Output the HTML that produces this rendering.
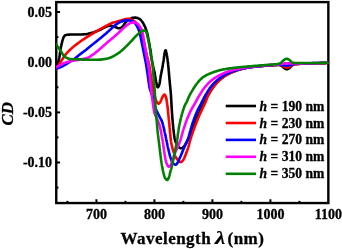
<!DOCTYPE html>
<html><head><meta charset="utf-8"><title>CD</title>
<style>
html,body{margin:0;padding:0;background:#fff;}
svg{display:block;will-change:transform;}
text{font-family:"Liberation Serif","Times New Roman",serif;font-weight:bold;fill:#000;stroke:#000;stroke-width:0.3px;}
</style></head><body>
<svg width="342" height="249" viewBox="0 0 342 249">
<rect width="342" height="249" fill="#fff"/>
<clipPath id="c"><rect x="56.25" y="2.1" width="272.1" height="200.95000000000002"/></clipPath>
<g stroke="#000" stroke-width="2"><line x1="96.4" y1="203.05" x2="96.4" y2="199.25"/><line x1="154.4" y1="203.05" x2="154.4" y2="199.25"/><line x1="212.4" y1="203.05" x2="212.4" y2="199.25"/><line x1="270.4" y1="203.05" x2="270.4" y2="199.25"/><line x1="67.4" y1="203.05" x2="67.4" y2="200.85000000000002"/><line x1="125.4" y1="203.05" x2="125.4" y2="200.85000000000002"/><line x1="183.4" y1="203.05" x2="183.4" y2="200.85000000000002"/><line x1="241.4" y1="203.05" x2="241.4" y2="200.85000000000002"/><line x1="299.4" y1="203.05" x2="299.4" y2="200.85000000000002"/><line x1="56.25" y1="12.0" x2="60.05" y2="12.0"/><line x1="56.25" y1="62.2" x2="60.05" y2="62.2"/><line x1="56.25" y1="112.4" x2="60.05" y2="112.4"/><line x1="56.25" y1="162.5" x2="60.05" y2="162.5"/><line x1="56.25" y1="37.1" x2="58.45" y2="37.1"/><line x1="56.25" y1="87.3" x2="58.45" y2="87.3"/><line x1="56.25" y1="137.4" x2="58.45" y2="137.4"/><line x1="56.25" y1="187.6" x2="58.45" y2="187.6"/></g>
<rect x="56.25" y="2.1" width="272.1" height="200.95000000000002" fill="none" stroke="#000" stroke-width="2.4"/>
<g clip-path="url(#c)">
<path d="M55.5,70.0 L55.8,69.4 L56.0,68.8 L56.2,68.1 L56.5,67.5 L56.7,66.9 L56.9,66.3 L57.1,65.6 L57.3,65.0 L57.5,64.3 L57.7,63.7 L57.9,63.1 L58.1,62.4 L58.3,61.8 L58.5,61.1 L58.6,60.5 L58.8,59.9 L59.0,59.2 L59.2,58.6 L59.3,57.9 L59.4,57.3 L59.5,56.6 L59.6,55.9 L59.7,55.3 L59.8,54.6 L59.9,53.9 L59.9,53.3 L60.0,52.6 L60.1,52.0 L60.2,51.3 L60.3,50.6 L60.4,50.0 L60.5,49.3 L60.6,48.7 L60.8,48.0 L60.9,47.3 L61.0,46.7 L61.2,46.0 L61.3,45.4 L61.5,44.7 L61.6,44.1 L61.8,43.4 L61.9,42.8 L62.1,42.1 L62.2,41.5 L62.4,40.8 L62.6,40.2 L62.8,39.5 L63.0,38.9 L63.2,38.3 L63.4,37.7 L63.7,37.0 L64.1,36.4 L64.5,35.9 L64.9,35.5 L65.5,35.2 L66.2,35.0 L66.9,34.8 L67.5,34.7 L68.2,34.7 L68.8,34.6 L69.5,34.6 L70.2,34.5 L70.8,34.5 L71.5,34.5 L72.2,34.5 L72.8,34.5 L73.5,34.5 L74.2,34.5 L74.9,34.5 L75.5,34.5 L76.2,34.5 L76.9,34.5 L77.5,34.5 L78.2,34.5 L78.9,34.5 L79.5,34.5 L80.2,34.5 L80.9,34.5 L81.5,34.5 L82.2,34.5 L82.9,34.4 L83.5,34.4 L84.2,34.3 L84.9,34.3 L85.5,34.2 L86.2,34.2 L86.8,34.1 L87.5,34.0 L88.2,33.8 L88.8,33.6 L89.5,33.4 L90.1,33.3 L90.7,33.1 L91.4,32.9 L92.0,32.7 L92.7,32.6 L93.3,32.4 L93.9,32.2 L94.6,31.9 L95.2,31.7 L95.8,31.5 L96.5,31.3 L97.1,31.0 L97.7,30.8 L98.3,30.5 L98.9,30.3 L99.6,30.0 L100.2,29.7 L100.8,29.5 L101.4,29.2 L102.0,28.9 L102.6,28.5 L103.1,28.2 L103.7,27.9 L104.3,27.5 L104.9,27.2 L105.5,27.0 L106.1,26.8 L106.8,26.5 L107.4,26.3 L108.1,26.1 L108.7,25.9 L109.4,25.8 L110.0,25.8 L110.7,25.8 L111.4,25.9 L112.0,26.0 L112.7,26.1 L113.3,26.2 L114.0,26.4 L114.6,26.7 L115.2,27.0 L115.8,27.2 L116.4,27.5 L117.1,27.7 L117.7,28.0 L118.4,28.2 L119.0,28.3 L119.6,28.3 L120.3,28.1 L120.9,27.8 L121.6,27.5 L122.1,27.1 L122.5,26.7 L123.0,26.2 L123.4,25.6 L123.7,25.0 L124.2,24.5 L124.5,24.0 L124.9,23.4 L125.3,22.8 L125.7,22.3 L126.2,21.8 L126.6,21.4 L127.1,20.9 L127.6,20.5 L128.2,20.0 L128.7,19.6 L129.3,19.3 L129.9,19.0 L130.4,18.7 L131.1,18.4 L131.7,18.1 L132.3,17.9 L133.0,17.8 L133.6,17.7 L134.3,17.6 L135.0,17.6 L135.6,17.6 L136.3,17.7 L137.0,17.9 L137.6,18.0 L138.2,18.3 L138.8,18.6 L139.4,18.9 L140.0,19.3 L140.5,19.7 L141.0,20.2 L141.4,20.7 L141.8,21.2 L142.2,21.7 L142.6,22.3 L143.0,22.9 L143.3,23.4 L143.6,24.0 L143.9,24.6 L144.2,25.2 L144.5,25.8 L144.8,26.4 L145.1,27.0 L145.4,27.6 L145.6,28.3 L145.8,28.9 L146.1,29.5 L146.3,30.1 L146.5,30.8 L146.7,31.4 L146.9,32.1 L147.0,32.7 L147.2,33.3 L147.4,34.0 L147.5,34.6 L147.7,35.3 L147.8,35.9 L148.0,36.6 L148.1,37.3 L148.2,37.9 L148.3,38.6 L148.5,39.2 L148.6,39.9 L148.7,40.5 L148.8,41.2 L149.0,41.8 L149.1,42.5 L149.2,43.2 L149.3,43.8 L149.4,44.5 L149.6,45.1 L149.7,45.8 L149.8,46.4 L149.9,47.1 L150.0,47.8 L150.1,48.4 L150.2,49.1 L150.3,49.7 L150.5,50.4 L150.6,51.1 L150.7,51.7 L150.8,52.4 L150.9,53.0 L151.0,53.7 L151.0,54.4 L151.1,55.0 L151.2,55.7 L151.3,56.3 L151.4,57.0 L151.5,57.7 L151.6,58.3 L151.7,59.0 L151.8,59.6 L152.0,60.3 L152.1,61.0 L152.2,61.6 L152.3,62.3 L152.4,62.9 L152.5,63.6 L152.7,64.2 L152.8,64.9 L152.9,65.6 L153.0,66.2 L153.2,66.9 L153.3,67.5 L153.4,68.2 L153.6,68.8 L153.7,69.5 L153.9,70.1 L154.1,70.8 L154.2,71.4 L154.4,72.1 L154.5,72.7 L154.7,73.4 L154.8,74.0 L154.9,74.7 L155.1,75.3 L155.2,76.0 L155.3,76.6 L155.4,77.3 L155.5,78.0 L155.6,78.6 L155.7,79.3 L155.8,80.0 L155.9,80.6 L156.0,81.3 L156.2,81.9 L156.3,82.6 L156.4,83.2 L156.6,83.9 L156.8,84.7 L157.0,85.5 L157.2,86.3 L157.4,86.9 L157.7,87.3 L158.0,87.2 L158.4,86.7 L158.8,86.0 L159.1,85.3 L159.2,84.7 L159.4,84.1 L159.6,83.4 L159.7,82.8 L159.8,82.1 L159.9,81.5 L160.0,80.8 L160.1,80.1 L160.2,79.4 L160.3,78.8 L160.4,78.1 L160.5,77.4 L160.6,76.7 L160.7,76.1 L160.8,75.4 L160.9,74.8 L161.1,74.1 L161.2,73.5 L161.3,72.8 L161.5,72.2 L161.6,71.5 L161.7,70.8 L161.9,70.2 L162.0,69.5 L162.1,68.9 L162.2,68.2 L162.4,67.6 L162.5,66.9 L162.6,66.3 L162.7,65.6 L162.8,64.9 L162.9,64.3 L163.0,63.6 L163.1,63.0 L163.2,62.3 L163.4,61.6 L163.5,61.0 L163.6,60.3 L163.7,59.7 L163.8,59.0 L163.9,58.3 L164.0,57.7 L164.0,57.0 L164.1,56.3 L164.2,55.7 L164.3,55.0 L164.4,54.4 L164.6,53.7 L164.7,53.1 L164.8,52.3 L165.0,51.5 L165.3,50.7 L165.5,50.3 L165.7,50.3 L165.9,50.7 L166.1,51.5 L166.3,52.3 L166.5,53.1 L166.7,53.7 L166.8,54.4 L166.9,55.0 L167.0,55.7 L167.1,56.3 L167.2,57.0 L167.3,57.7 L167.4,58.3 L167.5,59.0 L167.6,59.7 L167.6,60.3 L167.7,61.0 L167.8,61.6 L167.9,62.3 L168.0,63.0 L168.0,63.6 L168.1,64.3 L168.2,65.0 L168.3,65.6 L168.3,66.3 L168.4,67.0 L168.5,67.6 L168.5,68.3 L168.6,68.9 L168.6,69.6 L168.7,70.3 L168.8,70.9 L168.8,71.6 L168.9,72.3 L168.9,72.9 L169.0,73.6 L169.0,74.3 L169.1,74.9 L169.2,75.6 L169.2,76.3 L169.3,76.9 L169.3,77.6 L169.4,78.3 L169.4,78.9 L169.5,79.6 L169.6,80.3 L169.6,80.9 L169.7,81.6 L169.7,82.2 L169.8,82.9 L169.9,83.6 L169.9,84.2 L170.0,84.9 L170.1,85.6 L170.1,86.2 L170.2,86.9 L170.3,87.6 L170.3,88.2 L170.4,88.9 L170.5,89.6 L170.5,90.2 L170.6,90.9 L170.7,91.6 L170.7,92.2 L170.8,92.9 L170.8,93.5 L170.9,94.2 L170.9,94.9 L171.0,95.5 L171.0,96.2 L171.0,96.9 L171.1,97.5 L171.1,98.2 L171.2,98.9 L171.2,99.5 L171.2,100.2 L171.3,100.9 L171.3,101.5 L171.4,102.2 L171.4,102.9 L171.4,103.5 L171.5,104.2 L171.5,104.9 L171.5,105.5 L171.6,106.2 L171.6,106.9 L171.7,107.5 L171.7,108.2 L171.7,108.9 L171.8,109.5 L171.8,110.2 L171.9,110.9 L171.9,111.5 L171.9,112.2 L172.0,112.9 L172.0,113.5 L172.1,114.2 L172.1,114.9 L172.2,115.5 L172.2,116.2 L172.3,116.9 L172.3,117.5 L172.4,118.2 L172.4,118.9 L172.5,119.5 L172.6,120.2 L172.6,120.9 L172.7,121.5 L172.7,122.2 L172.8,122.9 L172.9,123.5 L172.9,124.2 L173.0,124.9 L173.0,125.5 L173.1,126.2 L173.2,126.8 L173.2,127.5 L173.3,128.2 L173.4,128.8 L173.5,129.5 L173.5,130.2 L173.6,130.8 L173.7,131.5 L173.8,132.2 L173.8,132.8 L173.9,133.5 L174.0,134.1 L174.1,134.8 L174.2,135.5 L174.3,136.1 L174.4,136.8 L174.5,137.5 L174.6,138.1 L174.7,138.8 L174.9,139.4 L175.0,140.1 L175.2,140.7 L175.4,141.3 L175.6,142.0 L175.9,142.6 L176.2,143.2 L176.5,143.8 L176.8,144.4 L177.2,145.0 L177.5,145.5 L177.9,146.1 L178.3,146.6 L178.8,147.2 L179.3,147.6 L179.8,147.9 L180.5,148.2 L181.1,148.3 L181.7,148.1 L182.4,147.9 L182.9,147.5 L183.5,147.1 L183.9,146.6 L184.3,146.1 L184.7,145.6 L185.1,145.0 L185.4,144.4 L185.8,143.8 L186.1,143.2 L186.4,142.6 L186.7,142.0 L187.0,141.5 L187.3,140.9 L187.7,140.3 L188.0,139.7 L188.3,139.1 L188.6,138.5 L188.9,137.9 L189.2,137.3 L189.5,136.7 L189.8,136.1 L190.0,135.5 L190.3,134.9 L190.5,134.3 L190.8,133.6 L191.0,133.0 L191.2,132.4 L191.5,131.8 L191.7,131.1 L191.9,130.5 L192.1,129.9 L192.4,129.2 L192.6,128.6 L192.8,128.0 L193.1,127.4 L193.3,126.7 L193.5,126.1 L193.8,125.5 L194.0,124.9 L194.3,124.2 L194.5,123.6 L194.8,123.0 L195.0,122.4 L195.3,121.8 L195.5,121.1 L195.8,120.5 L196.0,119.9 L196.3,119.3 L196.5,118.7 L196.8,118.1 L197.0,117.4 L197.3,116.8 L197.6,116.2 L197.8,115.6 L198.1,115.0 L198.4,114.4 L198.6,113.8 L198.9,113.2 L199.2,112.6 L199.5,112.0 L199.8,111.4 L200.1,110.7 L200.3,110.1 L200.6,109.5 L200.9,108.9 L201.2,108.4 L201.5,107.8 L201.8,107.2 L202.1,106.6 L202.4,106.0 L202.7,105.4 L203.0,104.8 L203.3,104.2 L203.6,103.6 L203.9,103.0 L204.3,102.4 L204.6,101.8 L204.9,101.2 L205.2,100.6 L205.5,100.0 L205.7,99.4 L206.1,98.8 L206.4,98.2 L206.7,97.6 L207.0,97.0 L207.3,96.4 L207.6,95.9 L208.0,95.3 L208.3,94.7 L208.6,94.1 L209.0,93.6 L209.3,93.0 L209.7,92.4 L210.0,91.8 L210.4,91.3 L210.8,90.7 L211.1,90.1 L211.5,89.6 L211.9,89.0 L212.3,88.5 L212.6,87.9 L213.0,87.4 L213.4,86.9 L213.8,86.3 L214.2,85.8 L214.6,85.3 L215.1,84.8 L215.5,84.3 L215.9,83.8 L216.4,83.3 L216.8,82.8 L217.3,82.3 L217.7,81.8 L218.2,81.3 L218.7,80.8 L219.2,80.4 L219.7,79.9 L220.2,79.5 L220.7,79.0 L221.2,78.6 L221.7,78.2 L222.2,77.8 L222.8,77.4 L223.3,77.0 L223.8,76.6 L224.4,76.3 L225.0,75.9 L225.5,75.5 L226.1,75.2 L226.7,74.9 L227.3,74.5 L227.9,74.2 L228.5,73.9 L229.1,73.6 L229.7,73.3 L230.3,73.0 L230.9,72.8 L231.5,72.5 L232.1,72.2 L232.7,71.9 L233.3,71.7 L234.0,71.4 L234.6,71.2 L235.2,71.0 L235.8,70.7 L236.5,70.5 L237.1,70.3 L237.7,70.1 L238.4,69.9 L239.0,69.7 L239.7,69.5 L240.3,69.3 L240.9,69.2 L241.6,69.0 L242.2,68.8 L242.9,68.6 L243.5,68.5 L244.2,68.3 L244.8,68.2 L245.5,68.0 L246.1,67.9 L246.8,67.7 L247.5,67.6 L248.1,67.5 L248.8,67.4 L249.4,67.3 L250.1,67.2 L250.7,67.1 L251.4,67.0 L252.1,66.9 L252.7,66.9 L253.4,66.8 L254.1,66.7 L254.7,66.7 L255.4,66.6 L256.1,66.5 L256.7,66.5 L257.4,66.4 L258.1,66.4 L258.7,66.3 L259.4,66.3 L260.0,66.2 L260.7,66.1 L261.4,66.1 L262.0,66.0 L262.7,66.0 L263.4,65.9 L264.0,65.9 L264.7,65.8 L265.4,65.8 L266.0,65.8 L266.7,65.7 L267.4,65.7 L268.0,65.6 L268.7,65.6 L269.4,65.5 L270.0,65.5 L270.7,65.5 L271.4,65.4 L272.0,65.4 L272.7,65.3 L273.4,65.3 L274.1,65.2 L274.7,65.2 L275.4,65.1 L276.1,65.1 L276.7,65.1 L277.4,65.0 L278.1,65.0 L278.7,65.0 L279.4,65.0 L280.0,65.2 L280.7,65.4 L281.3,65.7 L281.8,66.0 L282.3,66.4 L282.8,66.9 L283.3,67.4 L283.8,67.9 L284.4,68.2 L285.0,68.6 L285.6,68.9 L286.2,69.1 L286.8,69.2 L287.5,69.1 L288.1,68.8 L288.7,68.5 L289.3,68.1 L289.8,67.8 L290.3,67.3 L290.8,66.7 L291.2,66.2 L291.7,65.7 L292.2,65.4 L292.8,65.0 L293.4,64.7 L294.0,64.4 L294.7,64.3 L295.3,64.2 L295.9,64.1 L296.6,64.1 L297.2,64.0 L297.9,64.0 L298.5,63.9 L299.2,63.9 L299.9,63.8 L300.5,63.8 L301.2,63.8 L301.9,63.7 L302.5,63.7 L303.2,63.7 L303.9,63.7 L304.6,63.7 L305.3,63.6 L305.9,63.6 L306.6,63.6 L307.3,63.6 L308.0,63.6 L308.6,63.5 L309.3,63.5 L310.0,63.5 L310.6,63.5 L311.3,63.5 L312.0,63.4 L312.6,63.4 L313.3,63.4 L314.0,63.4 L314.7,63.3 L315.3,63.3 L316.0,63.3 L316.7,63.3 L317.3,63.3 L318.0,63.2 L318.7,63.2 L319.3,63.2 L320.0,63.2 L320.7,63.2 L321.3,63.1 L322.0,63.1 L322.7,63.1 L323.3,63.1 L324.0,63.1 L324.7,63.1 L325.3,63.1 L326.0,63.0 L326.7,63.0 L327.3,63.0 L328.0,63.0" fill="none" stroke="#000000" stroke-width="2.6" stroke-linejoin="round" stroke-linecap="round"/>
<path d="M55.5,70.0 L55.8,69.4 L56.2,68.8 L56.5,68.3 L56.8,67.7 L57.2,67.1 L57.6,66.6 L58.0,66.0 L58.4,65.5 L58.7,64.9 L59.1,64.4 L59.5,63.8 L59.8,63.3 L60.2,62.7 L60.6,62.1 L60.9,61.6 L61.3,61.0 L61.6,60.5 L62.0,59.9 L62.4,59.3 L62.7,58.8 L63.1,58.2 L63.4,57.6 L63.8,57.1 L64.2,56.5 L64.5,56.0 L64.9,55.4 L65.3,54.9 L65.7,54.4 L66.1,53.8 L66.6,53.3 L67.0,52.8 L67.4,52.3 L67.9,51.8 L68.4,51.4 L68.9,50.9 L69.3,50.4 L69.8,50.0 L70.3,49.5 L70.8,49.1 L71.3,48.6 L71.8,48.2 L72.3,47.7 L72.8,47.3 L73.3,46.9 L73.8,46.4 L74.4,46.0 L74.9,45.6 L75.4,45.2 L75.9,44.8 L76.5,44.4 L77.0,44.0 L77.5,43.6 L78.1,43.2 L78.6,42.8 L79.1,42.4 L79.7,42.0 L80.2,41.6 L80.7,41.2 L81.3,40.8 L81.8,40.4 L82.4,40.0 L82.9,39.7 L83.5,39.3 L84.1,38.9 L84.6,38.6 L85.2,38.2 L85.7,37.8 L86.3,37.5 L86.9,37.1 L87.4,36.8 L88.0,36.4 L88.6,36.1 L89.1,35.7 L89.7,35.4 L90.3,35.0 L90.9,34.7 L91.4,34.3 L92.0,34.0 L92.6,33.7 L93.2,33.3 L93.7,33.0 L94.3,32.6 L94.9,32.3 L95.4,31.9 L96.0,31.6 L96.6,31.2 L97.2,30.9 L97.7,30.6 L98.3,30.2 L98.9,29.9 L99.5,29.5 L100.0,29.2 L100.6,28.9 L101.2,28.5 L101.8,28.2 L102.4,27.9 L102.9,27.6 L103.5,27.3 L104.1,26.9 L104.7,26.6 L105.3,26.3 L105.9,26.0 L106.5,25.7 L107.1,25.4 L107.7,25.1 L108.3,24.8 L108.9,24.5 L109.5,24.2 L110.1,23.9 L110.7,23.6 L111.3,23.3 L111.9,23.0 L112.5,22.8 L113.1,22.6 L113.8,22.4 L114.4,22.2 L115.1,22.1 L115.7,21.9 L116.4,21.7 L117.0,21.5 L117.7,21.3 L118.3,21.2 L118.9,21.0 L119.6,20.8 L120.2,20.6 L120.9,20.4 L121.5,20.2 L122.1,20.0 L122.8,19.9 L123.4,19.7 L124.1,19.5 L124.7,19.3 L125.4,19.1 L126.0,19.0 L126.7,19.0 L127.4,18.9 L128.0,18.9 L128.7,18.9 L129.4,18.9 L130.0,19.1 L130.7,19.3 L131.3,19.5 L131.9,19.8 L132.5,20.1 L133.1,20.4 L133.7,20.8 L134.2,21.1 L134.8,21.5 L135.3,21.9 L135.7,22.4 L136.1,23.0 L136.5,23.5 L136.9,24.0 L137.3,24.6 L137.7,25.2 L138.0,25.7 L138.3,26.3 L138.7,26.9 L139.0,27.5 L139.3,28.1 L139.6,28.7 L139.9,29.3 L140.2,29.9 L140.4,30.5 L140.7,31.1 L141.0,31.7 L141.2,32.3 L141.5,33.0 L141.7,33.6 L141.9,34.2 L142.1,34.9 L142.3,35.5 L142.5,36.1 L142.7,36.8 L142.8,37.4 L143.0,38.1 L143.1,38.7 L143.3,39.4 L143.4,40.0 L143.6,40.7 L143.7,41.3 L143.9,42.0 L144.0,42.6 L144.2,43.3 L144.3,43.9 L144.5,44.6 L144.6,45.2 L144.8,45.9 L144.9,46.5 L145.0,47.2 L145.2,47.9 L145.3,48.5 L145.4,49.2 L145.6,49.8 L145.7,50.5 L145.9,51.1 L146.0,51.8 L146.1,52.4 L146.3,53.1 L146.4,53.7 L146.6,54.4 L146.7,55.0 L146.9,55.7 L147.1,56.3 L147.2,57.0 L147.4,57.6 L147.6,58.3 L147.7,58.9 L147.9,59.6 L148.1,60.2 L148.2,60.9 L148.4,61.5 L148.6,62.2 L148.7,62.8 L148.9,63.5 L149.0,64.1 L149.2,64.8 L149.3,65.4 L149.4,66.1 L149.5,66.7 L149.6,67.4 L149.8,68.0 L149.9,68.7 L150.0,69.4 L150.1,70.0 L150.2,70.7 L150.3,71.3 L150.4,72.0 L150.5,72.7 L150.6,73.3 L150.7,74.0 L150.8,74.6 L150.9,75.3 L151.0,76.0 L151.1,76.6 L151.2,77.3 L151.3,77.9 L151.4,78.6 L151.5,79.3 L151.6,79.9 L151.6,80.6 L151.7,81.3 L151.8,81.9 L151.9,82.6 L152.0,83.2 L152.1,83.9 L152.2,84.6 L152.3,85.2 L152.4,85.9 L152.5,86.5 L152.6,87.2 L152.7,87.9 L152.9,88.5 L153.0,89.2 L153.1,89.8 L153.3,90.5 L153.4,91.1 L153.6,91.8 L153.7,92.4 L153.9,93.1 L154.1,93.7 L154.2,94.4 L154.4,95.0 L154.6,95.7 L154.8,96.3 L155.0,96.9 L155.2,97.6 L155.4,98.2 L155.6,98.9 L155.8,99.6 L156.0,100.2 L156.2,100.9 L156.5,101.5 L156.8,102.0 L157.2,102.5 L157.7,103.1 L158.2,103.5 L158.8,103.7 L159.2,103.4 L159.7,102.9 L160.1,102.2 L160.5,101.6 L160.8,101.0 L161.1,100.4 L161.3,99.8 L161.5,99.1 L161.8,98.5 L162.0,97.9 L162.3,97.3 L162.7,96.7 L163.1,96.0 L163.6,95.4 L164.0,94.9 L164.4,94.6 L164.8,94.7 L165.1,95.2 L165.5,96.0 L165.8,96.7 L166.0,97.5 L166.2,98.1 L166.3,98.7 L166.5,99.4 L166.6,100.0 L166.7,100.7 L166.8,101.4 L166.9,102.0 L167.0,102.7 L167.1,103.4 L167.2,104.0 L167.3,104.7 L167.4,105.3 L167.5,106.0 L167.5,106.7 L167.6,107.3 L167.7,108.0 L167.8,108.7 L167.8,109.3 L167.9,110.0 L168.0,110.7 L168.0,111.3 L168.1,112.0 L168.2,112.6 L168.2,113.3 L168.3,114.0 L168.4,114.6 L168.4,115.3 L168.5,116.0 L168.6,116.6 L168.6,117.3 L168.7,118.0 L168.8,118.6 L168.8,119.3 L168.9,120.0 L169.0,120.6 L169.0,121.3 L169.1,122.0 L169.2,122.6 L169.2,123.3 L169.3,123.9 L169.4,124.6 L169.4,125.3 L169.5,125.9 L169.5,126.6 L169.6,127.3 L169.7,127.9 L169.7,128.6 L169.8,129.3 L169.8,129.9 L169.9,130.6 L169.9,131.3 L170.0,131.9 L170.1,132.6 L170.1,133.3 L170.2,133.9 L170.3,134.6 L170.3,135.3 L170.4,135.9 L170.5,136.6 L170.5,137.3 L170.6,137.9 L170.7,138.6 L170.7,139.2 L170.8,139.9 L170.9,140.6 L171.0,141.2 L171.1,141.9 L171.2,142.5 L171.3,143.2 L171.4,143.9 L171.6,144.5 L171.7,145.2 L171.9,145.8 L172.0,146.5 L172.2,147.1 L172.4,147.8 L172.5,148.4 L172.7,149.1 L172.9,149.7 L173.1,150.3 L173.3,151.0 L173.5,151.6 L173.7,152.2 L174.0,152.9 L174.2,153.5 L174.4,154.1 L174.7,154.8 L175.0,155.4 L175.2,156.0 L175.5,156.6 L175.8,157.2 L176.2,157.8 L176.5,158.4 L176.9,158.9 L177.3,159.5 L177.7,160.0 L178.1,160.4 L178.7,160.9 L179.2,161.4 L179.9,161.8 L180.4,162.0 L181.0,162.1 L181.5,161.9 L182.0,161.4 L182.5,160.9 L183.0,160.3 L183.4,159.7 L183.7,159.1 L184.0,158.6 L184.3,158.0 L184.6,157.3 L184.8,156.7 L185.1,156.1 L185.3,155.4 L185.6,154.8 L185.8,154.2 L186.1,153.6 L186.3,153.0 L186.5,152.3 L186.8,151.7 L187.0,151.1 L187.2,150.4 L187.4,149.8 L187.7,149.2 L187.9,148.5 L188.1,147.9 L188.3,147.3 L188.5,146.6 L188.7,146.0 L188.9,145.4 L189.0,144.7 L189.2,144.1 L189.3,143.4 L189.5,142.8 L189.7,142.1 L189.8,141.5 L190.0,140.8 L190.2,140.2 L190.4,139.6 L190.6,138.9 L190.8,138.3 L191.0,137.6 L191.2,137.0 L191.4,136.4 L191.6,135.7 L191.8,135.1 L192.0,134.5 L192.3,133.8 L192.5,133.2 L192.7,132.6 L192.9,131.9 L193.1,131.3 L193.4,130.7 L193.6,130.0 L193.8,129.4 L194.0,128.8 L194.3,128.2 L194.5,127.5 L194.7,126.9 L195.0,126.3 L195.2,125.7 L195.4,125.0 L195.7,124.4 L195.9,123.8 L196.1,123.2 L196.4,122.5 L196.6,121.9 L196.9,121.3 L197.1,120.7 L197.4,120.1 L197.6,119.4 L197.9,118.8 L198.1,118.2 L198.4,117.6 L198.7,117.0 L198.9,116.4 L199.2,115.7 L199.4,115.1 L199.7,114.5 L200.0,113.9 L200.2,113.3 L200.5,112.7 L200.8,112.1 L201.1,111.5 L201.4,110.9 L201.7,110.3 L202.0,109.7 L202.2,109.1 L202.5,108.5 L202.8,107.9 L203.1,107.3 L203.4,106.7 L203.7,106.1 L204.0,105.5 L204.3,104.9 L204.6,104.2 L204.8,103.6 L205.1,103.0 L205.4,102.4 L205.7,101.8 L205.9,101.2 L206.2,100.6 L206.4,99.9 L206.6,99.3 L206.8,98.7 L207.1,98.0 L207.3,97.4 L207.6,96.8 L207.8,96.2 L208.1,95.6 L208.4,95.0 L208.7,94.4 L209.1,93.8 L209.4,93.3 L209.7,92.7 L210.0,92.1 L210.4,91.5 L210.7,90.9 L211.1,90.4 L211.5,89.8 L211.9,89.2 L212.2,88.7 L212.6,88.1 L213.0,87.6 L213.4,87.0 L213.8,86.5 L214.2,86.0 L214.6,85.5 L215.0,85.0 L215.4,84.4 L215.9,83.9 L216.3,83.4 L216.8,82.9 L217.2,82.4 L217.7,81.9 L218.2,81.5 L218.6,81.0 L219.1,80.5 L219.6,80.1 L220.1,79.6 L220.6,79.2 L221.1,78.7 L221.6,78.3 L222.2,77.9 L222.7,77.5 L223.2,77.1 L223.8,76.7 L224.3,76.4 L224.9,76.0 L225.5,75.7 L226.0,75.3 L226.6,75.0 L227.2,74.6 L227.8,74.3 L228.4,74.0 L229.0,73.7 L229.6,73.4 L230.2,73.1 L230.8,72.8 L231.4,72.6 L232.0,72.3 L232.6,72.0 L233.2,71.8 L233.9,71.5 L234.5,71.3 L235.1,71.0 L235.7,70.8 L236.4,70.6 L237.0,70.3 L237.6,70.1 L238.3,69.9 L238.9,69.7 L239.5,69.5 L240.2,69.4 L240.8,69.2 L241.5,69.0 L242.1,68.8 L242.8,68.7 L243.4,68.5 L244.1,68.3 L244.7,68.2 L245.4,68.0 L246.0,67.9 L246.7,67.8 L247.3,67.6 L248.0,67.5 L248.7,67.4 L249.3,67.3 L250.0,67.2 L250.6,67.1 L251.3,67.0 L252.0,67.0 L252.6,66.9 L253.3,66.8 L253.9,66.7 L254.6,66.7 L255.3,66.6 L255.9,66.6 L256.6,66.5 L257.3,66.4 L257.9,66.4 L258.6,66.3 L259.3,66.3 L259.9,66.2 L260.6,66.1 L261.3,66.1 L261.9,66.0 L262.6,65.9 L263.3,65.9 L263.9,65.8 L264.6,65.8 L265.3,65.7 L265.9,65.6 L266.6,65.6 L267.3,65.5 L267.9,65.5 L268.6,65.4 L269.3,65.4 L269.9,65.3 L270.6,65.3 L271.3,65.2 L271.9,65.2 L272.6,65.1 L273.3,65.1 L273.9,65.0 L274.6,65.0 L275.3,64.9 L275.9,64.9 L276.6,64.9 L277.3,64.8 L277.9,64.8 L278.6,64.8 L279.3,64.8 L279.9,64.9 L280.6,65.0 L281.2,65.2 L281.8,65.4 L282.4,65.8 L283.0,66.2 L283.5,66.6 L284.1,66.8 L284.7,67.1 L285.4,67.3 L286.0,67.5 L286.7,67.6 L287.3,67.5 L288.0,67.4 L288.6,67.1 L289.3,66.9 L289.9,66.6 L290.4,66.3 L291.0,65.8 L291.5,65.5 L292.1,65.2 L292.7,64.9 L293.3,64.6 L294.0,64.4 L294.6,64.3 L295.3,64.2 L295.9,64.1 L296.6,64.1 L297.2,64.0 L297.9,64.0 L298.6,63.9 L299.2,63.9 L299.9,63.8 L300.6,63.8 L301.2,63.8 L301.9,63.8 L302.6,63.7 L303.2,63.7 L303.9,63.7 L304.6,63.7 L305.3,63.6 L305.9,63.6 L306.6,63.6 L307.3,63.6 L308.0,63.6 L308.6,63.5 L309.3,63.5 L310.0,63.5 L310.6,63.5 L311.3,63.5 L312.0,63.4 L312.6,63.4 L313.3,63.4 L314.0,63.4 L314.6,63.3 L315.3,63.3 L316.0,63.3 L316.6,63.3 L317.3,63.3 L318.0,63.2 L318.7,63.2 L319.3,63.2 L320.0,63.2 L320.7,63.2 L321.3,63.1 L322.0,63.1 L322.7,63.1 L323.3,63.1 L324.0,63.1 L324.7,63.1 L325.3,63.1 L326.0,63.0 L326.7,63.0 L327.3,63.0 L328.0,63.0" fill="none" stroke="#ff0000" stroke-width="2.6" stroke-linejoin="round" stroke-linecap="round"/>
<path d="M55.5,68.8 L56.1,68.6 L56.8,68.5 L57.4,68.3 L58.1,68.1 L58.7,67.9 L59.3,67.6 L60.0,67.4 L60.6,67.2 L61.2,66.9 L61.8,66.6 L62.4,66.3 L63.0,66.0 L63.6,65.7 L64.2,65.3 L64.7,65.0 L65.3,64.7 L65.9,64.3 L66.5,64.0 L67.0,63.6 L67.6,63.3 L68.1,62.9 L68.7,62.6 L69.3,62.2 L69.8,61.8 L70.4,61.5 L71.0,61.1 L71.5,60.7 L72.1,60.4 L72.6,60.0 L73.2,59.6 L73.7,59.2 L74.3,58.9 L74.8,58.5 L75.4,58.1 L75.9,57.7 L76.4,57.3 L76.9,56.8 L77.5,56.4 L78.0,56.0 L78.5,55.6 L79.0,55.1 L79.5,54.7 L80.0,54.3 L80.6,53.9 L81.1,53.5 L81.6,53.1 L82.2,52.7 L82.7,52.3 L83.2,51.9 L83.8,51.5 L84.3,51.1 L84.8,50.7 L85.4,50.3 L85.9,49.9 L86.4,49.5 L87.0,49.0 L87.5,48.6 L88.0,48.2 L88.5,47.8 L89.0,47.3 L89.5,46.9 L90.0,46.5 L90.6,46.1 L91.1,45.6 L91.6,45.2 L92.1,44.8 L92.6,44.4 L93.2,44.0 L93.7,43.6 L94.2,43.2 L94.7,42.7 L95.3,42.3 L95.8,41.9 L96.3,41.5 L96.8,41.1 L97.4,40.7 L97.9,40.2 L98.4,39.8 L98.9,39.4 L99.4,39.0 L99.9,38.5 L100.5,38.1 L101.0,37.7 L101.5,37.3 L102.0,36.8 L102.5,36.4 L103.0,36.0 L103.5,35.6 L104.0,35.1 L104.6,34.7 L105.1,34.3 L105.6,33.8 L106.1,33.4 L106.6,33.0 L107.1,32.5 L107.6,32.1 L108.1,31.6 L108.6,31.2 L109.1,30.7 L109.6,30.3 L110.0,29.8 L110.5,29.3 L111.0,28.9 L111.5,28.4 L112.0,28.0 L112.5,27.5 L113.0,27.1 L113.5,26.6 L114.0,26.2 L114.5,25.8 L115.0,25.3 L115.5,24.9 L116.1,24.5 L116.6,24.1 L117.2,23.8 L117.7,23.4 L118.3,23.1 L118.9,22.7 L119.5,22.4 L120.1,22.1 L120.7,21.8 L121.3,21.6 L122.0,21.4 L122.6,21.2 L123.2,21.0 L123.9,20.8 L124.5,20.6 L125.2,20.5 L125.9,20.4 L126.5,20.4 L127.2,20.4 L127.9,20.4 L128.5,20.4 L129.2,20.4 L129.9,20.5 L130.5,20.6 L131.2,20.8 L131.8,21.0 L132.4,21.3 L133.0,21.6 L133.6,22.0 L134.1,22.4 L134.6,22.8 L135.0,23.3 L135.4,23.8 L135.8,24.4 L136.2,25.0 L136.6,25.5 L136.9,26.1 L137.3,26.7 L137.6,27.3 L137.9,27.9 L138.1,28.5 L138.4,29.1 L138.6,29.7 L138.9,30.4 L139.1,31.0 L139.3,31.6 L139.5,32.3 L139.7,32.9 L139.9,33.5 L140.0,34.2 L140.2,34.9 L140.3,35.5 L140.4,36.2 L140.6,36.8 L140.7,37.5 L140.9,38.1 L141.0,38.8 L141.1,39.4 L141.3,40.1 L141.4,40.7 L141.5,41.4 L141.7,42.0 L141.8,42.7 L141.9,43.4 L142.1,44.0 L142.2,44.7 L142.3,45.3 L142.5,46.0 L142.6,46.6 L142.7,47.3 L142.9,47.9 L143.0,48.6 L143.1,49.2 L143.3,49.9 L143.4,50.6 L143.5,51.2 L143.7,51.9 L143.8,52.5 L143.9,53.2 L144.0,53.8 L144.2,54.5 L144.3,55.1 L144.4,55.8 L144.6,56.5 L144.7,57.1 L144.8,57.8 L144.9,58.4 L145.1,59.1 L145.2,59.7 L145.3,60.4 L145.5,61.0 L145.6,61.7 L145.7,62.4 L145.8,63.0 L146.0,63.7 L146.1,64.3 L146.2,65.0 L146.3,65.6 L146.4,66.3 L146.5,67.0 L146.6,67.6 L146.7,68.3 L146.8,68.9 L146.9,69.6 L147.0,70.3 L147.1,70.9 L147.2,71.6 L147.3,72.3 L147.4,72.9 L147.5,73.6 L147.6,74.2 L147.7,74.9 L147.8,75.6 L147.9,76.2 L148.0,76.9 L148.1,77.5 L148.2,78.2 L148.3,78.9 L148.4,79.5 L148.4,80.2 L148.5,80.9 L148.6,81.5 L148.7,82.2 L148.8,82.9 L148.9,83.5 L149.0,84.2 L149.1,84.8 L149.2,85.5 L149.3,86.2 L149.4,86.8 L149.5,87.5 L149.7,88.1 L149.9,88.7 L150.0,89.4 L150.2,90.0 L150.5,90.7 L150.7,91.3 L150.9,91.9 L151.2,92.5 L151.4,93.2 L151.6,93.8 L151.9,94.4 L152.1,95.1 L152.4,95.7 L152.6,96.3 L152.9,96.9 L153.1,97.5 L153.2,98.2 L153.4,98.8 L153.6,99.5 L153.7,100.1 L153.8,100.8 L153.9,101.5 L154.0,102.1 L154.1,102.8 L154.2,103.5 L154.4,104.1 L154.5,104.8 L154.6,105.4 L154.8,106.1 L154.9,106.7 L155.1,107.3 L155.3,108.0 L155.6,108.6 L155.9,109.2 L156.2,109.8 L156.5,110.4 L156.8,111.0 L157.0,111.6 L157.3,112.2 L157.6,112.8 L157.9,113.4 L158.2,114.0 L158.5,114.6 L158.8,115.2 L159.1,115.8 L159.4,116.4 L159.7,117.0 L160.0,117.6 L160.3,118.2 L160.7,118.8 L161.0,119.4 L161.3,120.0 L161.6,120.6 L161.8,121.2 L162.1,121.8 L162.3,122.4 L162.5,123.0 L162.7,123.7 L162.8,124.3 L163.0,125.0 L163.2,125.6 L163.3,126.3 L163.5,126.9 L163.7,127.6 L163.8,128.2 L164.0,128.9 L164.1,129.5 L164.2,130.2 L164.4,130.9 L164.5,131.5 L164.7,132.2 L164.8,132.8 L165.0,133.5 L165.1,134.1 L165.3,134.8 L165.4,135.4 L165.6,136.1 L165.7,136.7 L165.8,137.4 L166.0,138.0 L166.1,138.7 L166.2,139.3 L166.4,140.0 L166.5,140.6 L166.7,141.3 L166.8,142.0 L166.9,142.6 L167.1,143.3 L167.2,143.9 L167.3,144.6 L167.5,145.2 L167.6,145.9 L167.7,146.5 L167.9,147.2 L168.0,147.8 L168.2,148.5 L168.3,149.1 L168.5,149.8 L168.6,150.4 L168.8,151.1 L168.9,151.7 L169.1,152.4 L169.2,153.1 L169.4,153.7 L169.6,154.3 L169.7,155.0 L169.9,155.6 L170.1,156.3 L170.3,156.9 L170.5,157.5 L170.7,158.2 L170.9,158.8 L171.2,159.5 L171.4,160.2 L171.6,160.8 L171.9,161.4 L172.2,162.0 L172.5,162.6 L172.9,163.0 L173.4,163.5 L174.0,164.0 L174.6,164.4 L175.2,164.7 L175.7,164.7 L176.3,164.3 L176.8,163.8 L177.3,163.2 L177.6,162.7 L178.0,162.1 L178.3,161.5 L178.5,160.9 L178.8,160.3 L179.0,159.6 L179.3,159.0 L179.6,158.4 L179.8,157.8 L180.1,157.2 L180.4,156.6 L180.7,156.0 L180.9,155.4 L181.2,154.7 L181.5,154.1 L181.7,153.5 L182.0,152.9 L182.2,152.3 L182.5,151.7 L182.7,151.0 L183.0,150.4 L183.2,149.8 L183.5,149.2 L183.7,148.6 L184.0,148.0 L184.3,147.3 L184.5,146.7 L184.8,146.1 L185.0,145.5 L185.3,144.9 L185.6,144.3 L185.9,143.7 L186.2,143.1 L186.5,142.5 L186.8,141.9 L187.1,141.3 L187.3,140.7 L187.6,140.0 L187.8,139.4 L188.0,138.8 L188.2,138.2 L188.4,137.5 L188.6,136.9 L188.8,136.3 L189.0,135.6 L189.2,135.0 L189.3,134.3 L189.5,133.7 L189.7,133.0 L189.9,132.4 L190.0,131.7 L190.2,131.1 L190.4,130.4 L190.6,129.8 L190.7,129.1 L190.9,128.5 L191.1,127.9 L191.3,127.2 L191.5,126.6 L191.7,125.9 L191.9,125.3 L192.1,124.7 L192.3,124.0 L192.5,123.4 L192.7,122.8 L193.0,122.1 L193.2,121.5 L193.4,120.9 L193.6,120.2 L193.8,119.6 L194.1,119.0 L194.3,118.3 L194.5,117.7 L194.8,117.1 L195.0,116.5 L195.2,115.8 L195.5,115.2 L195.7,114.6 L196.0,114.0 L196.2,113.4 L196.5,112.7 L196.8,112.1 L197.0,111.5 L197.3,110.9 L197.6,110.3 L197.9,109.7 L198.2,109.1 L198.5,108.5 L198.8,108.0 L199.1,107.4 L199.5,106.8 L199.8,106.2 L200.1,105.6 L200.4,105.0 L200.7,104.4 L201.0,103.8 L201.3,103.2 L201.6,102.6 L201.9,102.0 L202.2,101.4 L202.5,100.8 L202.8,100.2 L203.1,99.6 L203.4,99.0 L203.7,98.4 L204.0,97.8 L204.3,97.2 L204.6,96.6 L204.9,96.1 L205.3,95.5 L205.6,94.9 L205.9,94.3 L206.3,93.7 L206.6,93.2 L207.0,92.6 L207.3,92.0 L207.7,91.4 L208.0,90.9 L208.4,90.3 L208.8,89.7 L209.2,89.2 L209.5,88.6 L209.9,88.1 L210.3,87.5 L210.7,87.0 L211.1,86.5 L211.5,86.0 L212.0,85.5 L212.4,85.0 L212.8,84.5 L213.3,84.0 L213.7,83.5 L214.2,83.0 L214.7,82.6 L215.1,82.1 L215.6,81.6 L216.1,81.2 L216.6,80.7 L217.1,80.3 L217.7,79.8 L218.2,79.4 L218.7,79.0 L219.2,78.6 L219.8,78.1 L220.3,77.8 L220.8,77.4 L221.4,77.0 L221.9,76.6 L222.5,76.3 L223.1,75.9 L223.6,75.6 L224.2,75.2 L224.8,74.9 L225.4,74.6 L226.0,74.3 L226.6,74.0 L227.2,73.7 L227.8,73.4 L228.4,73.1 L229.0,72.8 L229.6,72.5 L230.2,72.3 L230.8,72.0 L231.5,71.8 L232.1,71.6 L232.7,71.4 L233.4,71.1 L234.0,70.9 L234.6,70.7 L235.3,70.5 L235.9,70.3 L236.6,70.1 L237.2,69.9 L237.8,69.8 L238.5,69.6 L239.1,69.4 L239.8,69.2 L240.4,69.1 L241.1,68.9 L241.7,68.8 L242.4,68.6 L243.0,68.5 L243.7,68.3 L244.3,68.2 L245.0,68.1 L245.7,68.0 L246.3,67.9 L247.0,67.8 L247.6,67.7 L248.3,67.6 L249.0,67.5 L249.6,67.4 L250.3,67.3 L250.9,67.2 L251.6,67.1 L252.3,67.0 L252.9,66.9 L253.6,66.9 L254.3,66.8 L254.9,66.7 L255.6,66.6 L256.3,66.6 L256.9,66.5 L257.6,66.4 L258.2,66.3 L258.9,66.3 L259.6,66.2 L260.2,66.1 L260.9,66.0 L261.6,66.0 L262.2,65.9 L262.9,65.8 L263.6,65.8 L264.2,65.7 L264.9,65.6 L265.6,65.6 L266.2,65.5 L266.9,65.5 L267.6,65.4 L268.2,65.3 L268.9,65.3 L269.5,65.2 L270.2,65.2 L270.9,65.1 L271.5,65.1 L272.2,65.0 L272.9,65.0 L273.5,64.9 L274.2,64.8 L274.9,64.8 L275.6,64.7 L276.2,64.7 L276.9,64.7 L277.6,64.6 L278.2,64.6 L278.9,64.6 L279.5,64.6 L280.2,64.7 L280.9,64.8 L281.5,64.9 L282.2,65.0 L282.9,65.1 L283.5,65.2 L284.2,65.3 L284.8,65.5 L285.5,65.6 L286.2,65.7 L286.8,65.7 L287.5,65.7 L288.1,65.5 L288.8,65.4 L289.4,65.3 L290.1,65.1 L290.8,64.9 L291.4,64.8 L292.0,64.6 L292.7,64.3 L293.3,64.1 L294.0,64.0 L294.6,63.8 L295.3,63.8 L295.9,63.7 L296.6,63.7 L297.3,63.6 L297.9,63.6 L298.6,63.6 L299.2,63.5 L299.9,63.5 L300.6,63.5 L301.2,63.4 L301.9,63.4 L302.6,63.4 L303.3,63.4 L303.9,63.4 L304.6,63.3 L305.3,63.3 L305.9,63.3 L306.6,63.3 L307.3,63.3 L308.0,63.3 L308.6,63.2 L309.3,63.2 L310.0,63.2 L310.6,63.2 L311.3,63.2 L312.0,63.1 L312.6,63.1 L313.3,63.1 L314.0,63.1 L314.6,63.1 L315.3,63.1 L316.0,63.0 L316.6,63.0 L317.3,63.0 L318.0,63.0 L318.6,63.0 L319.3,63.0 L320.0,62.9 L320.7,62.9 L321.3,62.9 L322.0,62.9 L322.7,62.9 L323.3,62.9 L324.0,62.9 L324.7,62.8 L325.3,62.8 L326.0,62.8 L326.7,62.8 L327.3,62.8 L328.0,62.8" fill="none" stroke="#0000ff" stroke-width="2.6" stroke-linejoin="round" stroke-linecap="round"/>
<path d="M55.5,67.3 L56.1,67.1 L56.8,66.9 L57.4,66.6 L58.0,66.3 L58.6,66.0 L59.1,65.7 L59.7,65.3 L60.3,65.0 L60.9,64.7 L61.5,64.4 L62.1,64.1 L62.7,63.8 L63.3,63.5 L63.9,63.2 L64.5,62.9 L65.1,62.7 L65.8,62.5 L66.4,62.3 L67.0,62.1 L67.7,61.9 L68.3,61.7 L69.0,61.5 L69.6,61.4 L70.3,61.2 L70.9,61.1 L71.6,61.0 L72.2,60.8 L72.9,60.7 L73.5,60.6 L74.2,60.5 L74.9,60.4 L75.5,60.3 L76.2,60.2 L76.8,60.1 L77.5,60.0 L78.2,59.9 L78.8,59.8 L79.5,59.7 L80.1,59.5 L80.8,59.4 L81.5,59.3 L82.1,59.2 L82.8,59.0 L83.4,58.9 L84.1,58.8 L84.7,58.6 L85.4,58.5 L86.0,58.3 L86.7,58.1 L87.3,57.9 L87.9,57.7 L88.5,57.4 L89.1,57.1 L89.7,56.8 L90.3,56.4 L90.8,56.0 L91.4,55.6 L91.9,55.2 L92.5,54.9 L93.0,54.5 L93.6,54.1 L94.1,53.8 L94.7,53.4 L95.2,53.0 L95.7,52.5 L96.2,52.1 L96.8,51.7 L97.3,51.2 L97.8,50.8 L98.3,50.4 L98.8,49.9 L99.3,49.5 L99.8,49.1 L100.3,48.6 L100.8,48.2 L101.3,47.8 L101.8,47.3 L102.3,46.9 L102.8,46.4 L103.3,46.0 L103.8,45.5 L104.3,45.1 L104.8,44.6 L105.3,44.2 L105.8,43.8 L106.3,43.3 L106.8,42.9 L107.3,42.4 L107.8,42.0 L108.3,41.6 L108.8,41.1 L109.4,40.7 L109.9,40.3 L110.4,39.9 L110.9,39.4 L111.4,39.0 L111.9,38.6 L112.5,38.2 L113.0,37.7 L113.5,37.3 L114.0,36.9 L114.5,36.4 L115.0,36.0 L115.5,35.5 L116.0,35.1 L116.5,34.7 L117.0,34.2 L117.5,33.8 L118.0,33.3 L118.5,32.9 L119.0,32.4 L119.4,31.9 L119.9,31.5 L120.4,31.0 L120.9,30.6 L121.4,30.1 L121.9,29.6 L122.4,29.2 L122.8,28.7 L123.3,28.3 L123.8,27.8 L124.3,27.4 L124.8,27.0 L125.4,26.5 L125.9,26.1 L126.4,25.7 L126.9,25.3 L127.4,24.9 L128.0,24.5 L128.5,24.1 L129.1,23.7 L129.7,23.4 L130.3,23.1 L130.9,22.8 L131.5,22.7 L132.2,22.6 L132.9,22.5 L133.5,22.4 L134.2,22.4 L134.9,22.5 L135.5,22.7 L136.1,23.0 L136.7,23.3 L137.3,23.6 L137.8,24.0 L138.3,24.5 L138.7,25.1 L139.1,25.6 L139.5,26.1 L139.9,26.7 L140.2,27.3 L140.6,27.9 L140.9,28.4 L141.2,29.0 L141.5,29.6 L141.7,30.3 L142.0,30.9 L142.2,31.5 L142.4,32.1 L142.6,32.8 L142.7,33.4 L142.9,34.1 L143.0,34.7 L143.2,35.4 L143.3,36.1 L143.4,36.7 L143.5,37.4 L143.6,38.0 L143.7,38.7 L143.8,39.3 L143.9,40.0 L144.0,40.7 L144.1,41.3 L144.2,42.0 L144.3,42.7 L144.4,43.3 L144.5,44.0 L144.6,44.6 L144.7,45.3 L144.8,46.0 L144.9,46.6 L145.0,47.3 L145.2,47.9 L145.3,48.6 L145.4,49.3 L145.5,49.9 L145.6,50.6 L145.7,51.2 L145.9,51.9 L146.0,52.5 L146.1,53.2 L146.2,53.9 L146.3,54.5 L146.5,55.2 L146.6,55.8 L146.7,56.5 L146.8,57.1 L147.0,57.8 L147.1,58.5 L147.2,59.1 L147.4,59.8 L147.5,60.4 L147.7,61.1 L147.8,61.7 L148.0,62.4 L148.1,63.0 L148.3,63.7 L148.4,64.3 L148.5,65.0 L148.6,65.6 L148.7,66.3 L148.8,67.0 L148.9,67.6 L148.9,68.3 L149.0,69.0 L149.1,69.6 L149.1,70.3 L149.2,71.0 L149.3,71.6 L149.3,72.3 L149.4,73.0 L149.5,73.6 L149.5,74.3 L149.6,74.9 L149.7,75.6 L149.7,76.3 L149.8,76.9 L149.9,77.6 L149.9,78.3 L150.0,78.9 L150.0,79.6 L150.1,80.3 L150.2,80.9 L150.2,81.6 L150.3,82.3 L150.3,82.9 L150.4,83.6 L150.5,84.3 L150.5,84.9 L150.6,85.6 L150.6,86.3 L150.7,86.9 L150.8,87.6 L150.9,88.3 L150.9,88.9 L151.0,89.6 L151.1,90.2 L151.2,90.9 L151.3,91.6 L151.4,92.2 L151.5,92.9 L151.6,93.5 L151.7,94.2 L151.8,94.9 L151.9,95.5 L151.9,96.2 L152.0,96.9 L152.1,97.5 L152.2,98.2 L152.3,98.8 L152.4,99.5 L152.5,100.2 L152.6,100.8 L152.7,101.5 L152.8,102.2 L152.9,102.8 L152.9,103.5 L153.0,104.1 L153.1,104.8 L153.2,105.5 L153.3,106.1 L153.4,106.8 L153.5,107.5 L153.6,108.1 L153.7,108.8 L153.8,109.5 L153.9,110.1 L154.0,110.8 L154.1,111.4 L154.2,112.1 L154.4,112.7 L154.6,113.3 L154.9,114.0 L155.1,114.6 L155.4,115.2 L155.6,115.8 L155.9,116.4 L156.2,117.0 L156.5,117.6 L156.8,118.2 L157.0,118.8 L157.3,119.5 L157.6,120.1 L157.8,120.7 L158.1,121.3 L158.3,121.9 L158.5,122.6 L158.8,123.2 L159.0,123.8 L159.2,124.5 L159.4,125.1 L159.6,125.7 L159.8,126.4 L160.0,127.0 L160.2,127.7 L160.3,128.3 L160.5,129.0 L160.6,129.6 L160.8,130.3 L160.9,130.9 L161.0,131.6 L161.1,132.2 L161.2,132.9 L161.3,133.6 L161.5,134.2 L161.6,134.9 L161.7,135.5 L161.8,136.2 L161.9,136.8 L162.1,137.5 L162.2,138.2 L162.3,138.8 L162.4,139.5 L162.6,140.1 L162.7,140.8 L162.8,141.4 L162.9,142.1 L163.0,142.8 L163.1,143.4 L163.2,144.1 L163.3,144.8 L163.4,145.4 L163.4,146.1 L163.5,146.7 L163.6,147.4 L163.7,148.1 L163.8,148.7 L163.9,149.4 L164.0,150.0 L164.1,150.7 L164.2,151.4 L164.3,152.0 L164.4,152.7 L164.5,153.4 L164.6,154.0 L164.7,154.7 L164.8,155.3 L164.9,156.0 L165.0,156.7 L165.2,157.3 L165.3,158.0 L165.4,158.6 L165.5,159.3 L165.7,160.0 L165.8,160.6 L166.0,161.3 L166.1,161.9 L166.3,162.6 L166.5,163.2 L166.8,163.8 L167.0,164.4 L167.4,165.1 L167.8,165.8 L168.3,166.4 L168.7,166.7 L169.2,166.6 L169.7,166.3 L170.2,165.7 L170.7,165.1 L171.0,164.5 L171.3,164.0 L171.5,163.3 L171.8,162.7 L172.0,162.0 L172.2,161.4 L172.4,160.7 L172.6,160.1 L172.9,159.5 L173.1,158.8 L173.3,158.2 L173.5,157.6 L173.7,156.9 L173.9,156.3 L174.1,155.7 L174.3,155.0 L174.5,154.4 L174.7,153.8 L174.9,153.1 L175.2,152.5 L175.4,151.9 L175.7,151.3 L176.0,150.7 L176.3,150.1 L176.6,149.5 L176.8,148.9 L177.1,148.3 L177.4,147.6 L177.7,147.0 L177.9,146.4 L178.2,145.8 L178.5,145.2 L178.7,144.6 L179.0,144.0 L179.2,143.3 L179.5,142.7 L179.7,142.1 L180.0,141.5 L180.2,140.8 L180.4,140.2 L180.6,139.6 L180.8,138.9 L181.0,138.3 L181.2,137.7 L181.3,137.0 L181.5,136.4 L181.7,135.7 L181.9,135.1 L182.0,134.4 L182.2,133.8 L182.4,133.1 L182.6,132.5 L182.7,131.8 L182.9,131.2 L183.1,130.6 L183.3,129.9 L183.5,129.3 L183.7,128.7 L183.9,128.0 L184.1,127.4 L184.4,126.7 L184.6,126.1 L184.8,125.5 L185.0,124.8 L185.2,124.2 L185.4,123.6 L185.7,123.0 L185.9,122.3 L186.1,121.7 L186.3,121.1 L186.6,120.4 L186.8,119.8 L187.1,119.2 L187.3,118.6 L187.5,118.0 L187.8,117.3 L188.1,116.7 L188.3,116.1 L188.6,115.5 L188.8,114.9 L189.1,114.3 L189.4,113.7 L189.7,113.0 L189.9,112.4 L190.2,111.8 L190.5,111.2 L190.8,110.6 L191.1,110.0 L191.4,109.5 L191.8,108.9 L192.1,108.3 L192.4,107.7 L192.7,107.1 L193.1,106.5 L193.4,106.0 L193.8,105.4 L194.1,104.8 L194.4,104.2 L194.8,103.7 L195.1,103.1 L195.4,102.5 L195.7,101.9 L196.0,101.3 L196.4,100.7 L196.7,100.1 L197.0,99.5 L197.3,99.0 L197.7,98.4 L198.0,97.8 L198.3,97.2 L198.6,96.6 L199.0,96.1 L199.3,95.5 L199.7,94.9 L200.0,94.3 L200.4,93.8 L200.7,93.2 L201.1,92.6 L201.4,92.1 L201.8,91.5 L202.2,90.9 L202.5,90.4 L202.9,89.8 L203.3,89.3 L203.7,88.7 L204.1,88.2 L204.5,87.7 L204.9,87.1 L205.3,86.6 L205.7,86.1 L206.2,85.6 L206.6,85.1 L207.1,84.6 L207.5,84.1 L208.0,83.6 L208.5,83.1 L208.9,82.7 L209.4,82.2 L209.9,81.7 L210.4,81.3 L210.9,80.9 L211.4,80.4 L211.9,80.0 L212.5,79.6 L213.0,79.2 L213.5,78.9 L214.1,78.5 L214.6,78.1 L215.2,77.7 L215.8,77.4 L216.4,77.0 L216.9,76.7 L217.5,76.4 L218.1,76.0 L218.7,75.7 L219.3,75.4 L219.9,75.1 L220.5,74.8 L221.1,74.5 L221.7,74.2 L222.3,73.9 L222.9,73.6 L223.5,73.4 L224.1,73.1 L224.7,72.8 L225.3,72.6 L226.0,72.3 L226.6,72.1 L227.2,71.8 L227.8,71.6 L228.5,71.4 L229.1,71.1 L229.7,70.9 L230.4,70.7 L231.0,70.6 L231.7,70.4 L232.3,70.2 L232.9,70.1 L233.6,69.9 L234.3,69.8 L234.9,69.6 L235.6,69.5 L236.2,69.3 L236.9,69.2 L237.5,69.0 L238.2,68.9 L238.8,68.8 L239.5,68.6 L240.1,68.5 L240.8,68.4 L241.5,68.2 L242.1,68.1 L242.8,68.0 L243.4,67.9 L244.1,67.7 L244.7,67.6 L245.4,67.5 L246.1,67.4 L246.7,67.4 L247.4,67.3 L248.1,67.2 L248.7,67.1 L249.4,67.0 L250.0,66.9 L250.7,66.9 L251.4,66.8 L252.0,66.7 L252.7,66.6 L253.4,66.6 L254.0,66.5 L254.7,66.4 L255.4,66.4 L256.0,66.3 L256.7,66.2 L257.4,66.2 L258.0,66.1 L258.7,66.0 L259.3,66.0 L260.0,65.9 L260.7,65.8 L261.3,65.8 L262.0,65.7 L262.7,65.6 L263.3,65.6 L264.0,65.5 L264.7,65.5 L265.3,65.4 L266.0,65.3 L266.7,65.3 L267.3,65.2 L268.0,65.2 L268.7,65.1 L269.3,65.1 L270.0,65.0 L270.7,64.9 L271.3,64.9 L272.0,64.8 L272.7,64.8 L273.3,64.8 L274.0,64.7 L274.7,64.7 L275.3,64.6 L276.0,64.6 L276.7,64.5 L277.3,64.5 L278.0,64.4 L278.7,64.3 L279.3,64.3 L280.0,64.2 L280.6,64.0 L281.3,63.9 L282.0,63.8 L282.6,63.7 L283.3,63.6 L283.9,63.5 L284.6,63.4 L285.3,63.3 L285.9,63.2 L286.6,63.2 L287.3,63.2 L287.9,63.3 L288.6,63.3 L289.3,63.4 L289.9,63.5 L290.6,63.5 L291.3,63.5 L291.9,63.5 L292.6,63.5 L293.3,63.5 L293.9,63.5 L294.6,63.5 L295.3,63.5 L295.9,63.5 L296.6,63.5 L297.3,63.5 L297.9,63.5 L298.6,63.5 L299.3,63.5 L299.9,63.4 L300.6,63.4 L301.3,63.4 L301.9,63.4 L302.6,63.4 L303.3,63.4 L304.0,63.4 L304.6,63.3 L305.3,63.3 L306.0,63.3 L306.6,63.3 L307.3,63.3 L308.0,63.2 L308.6,63.2 L309.3,63.2 L310.0,63.2 L310.6,63.2 L311.3,63.2 L312.0,63.2 L312.6,63.1 L313.3,63.1 L314.0,63.1 L314.6,63.1 L315.3,63.1 L316.0,63.1 L316.6,63.1 L317.3,63.0 L318.0,63.0 L318.6,63.0 L319.3,63.0 L320.0,63.0 L320.7,63.0 L321.3,63.0 L322.0,62.9 L322.7,62.9 L323.3,62.9 L324.0,62.9 L324.7,62.9 L325.3,62.9 L326.0,62.8 L326.7,62.8 L327.3,62.8 L328.0,62.8" fill="none" stroke="#ff00ff" stroke-width="2.6" stroke-linejoin="round" stroke-linecap="round"/>
<path d="M55.5,43.5 L55.9,44.0 L56.3,44.5 L56.8,45.1 L57.1,45.6 L57.5,46.2 L57.9,46.7 L58.2,47.3 L58.6,47.9 L58.9,48.4 L59.3,49.0 L59.6,49.6 L60.1,50.1 L60.5,50.6 L60.9,51.1 L61.3,51.7 L61.6,52.3 L61.9,52.9 L62.2,53.4 L62.6,54.0 L63.0,54.6 L63.4,55.1 L63.8,55.6 L64.2,56.1 L64.7,56.6 L65.2,57.0 L65.8,57.4 L66.4,57.7 L67.0,58.0 L67.6,58.3 L68.2,58.6 L68.8,58.8 L69.5,58.9 L70.1,59.0 L70.8,59.0 L71.5,59.1 L72.1,59.2 L72.8,59.2 L73.5,59.2 L74.1,59.3 L74.8,59.3 L75.5,59.3 L76.2,59.3 L76.8,59.3 L77.5,59.3 L78.2,59.4 L78.8,59.4 L79.5,59.4 L80.2,59.4 L80.8,59.5 L81.5,59.5 L82.2,59.5 L82.8,59.6 L83.5,59.6 L84.2,59.6 L84.8,59.7 L85.5,59.7 L86.2,59.7 L86.8,59.7 L87.5,59.7 L88.2,59.7 L88.8,59.7 L89.5,59.7 L90.2,59.7 L90.8,59.7 L91.5,59.7 L92.2,59.7 L92.9,59.7 L93.5,59.7 L94.2,59.7 L94.9,59.7 L95.5,59.7 L96.2,59.7 L96.9,59.7 L97.5,59.7 L98.2,59.7 L98.9,59.6 L99.5,59.6 L100.2,59.6 L100.9,59.6 L101.5,59.5 L102.2,59.4 L102.9,59.3 L103.5,59.2 L104.2,59.1 L104.8,59.0 L105.5,58.9 L106.2,58.8 L106.8,58.7 L107.5,58.5 L108.1,58.3 L108.8,58.2 L109.4,58.0 L110.0,57.8 L110.6,57.5 L111.3,57.3 L111.9,57.0 L112.5,56.7 L113.1,56.4 L113.7,56.0 L114.3,55.7 L114.8,55.4 L115.4,55.1 L116.0,54.7 L116.5,54.4 L117.1,54.0 L117.7,53.6 L118.2,53.2 L118.8,52.9 L119.3,52.5 L119.9,52.1 L120.4,51.7 L120.9,51.2 L121.4,50.8 L121.9,50.4 L122.4,50.0 L122.9,49.5 L123.4,49.1 L123.9,48.6 L124.4,48.1 L124.9,47.7 L125.3,47.2 L125.8,46.7 L126.3,46.2 L126.7,45.8 L127.2,45.3 L127.7,44.8 L128.2,44.3 L128.6,43.9 L129.1,43.4 L129.6,42.9 L130.0,42.4 L130.5,41.9 L130.9,41.4 L131.4,41.0 L131.9,40.5 L132.3,40.0 L132.8,39.5 L133.2,39.0 L133.7,38.5 L134.1,38.0 L134.6,37.5 L135.0,37.0 L135.5,36.5 L135.9,36.1 L136.4,35.6 L136.9,35.1 L137.4,34.7 L137.9,34.3 L138.4,33.8 L138.9,33.4 L139.4,33.0 L139.9,32.5 L140.4,32.0 L140.9,31.6 L141.5,31.2 L142.1,30.9 L142.7,30.6 L143.3,30.5 L144.0,30.6 L144.7,30.7 L145.3,30.9 L145.8,31.4 L146.2,31.9 L146.5,32.5 L146.7,33.1 L146.8,33.7 L147.0,34.4 L147.1,35.1 L147.3,35.8 L147.4,36.4 L147.6,37.1 L147.8,37.7 L147.9,38.4 L148.1,39.0 L148.2,39.7 L148.4,40.3 L148.5,41.0 L148.6,41.6 L148.8,42.3 L148.9,42.9 L149.0,43.6 L149.2,44.2 L149.3,44.9 L149.4,45.6 L149.5,46.2 L149.6,46.9 L149.7,47.5 L149.8,48.2 L149.9,48.9 L150.0,49.5 L150.1,50.2 L150.2,50.8 L150.3,51.5 L150.4,52.2 L150.5,52.8 L150.6,53.5 L150.7,54.1 L150.8,54.8 L150.9,55.5 L151.0,56.1 L151.1,56.8 L151.2,57.4 L151.4,58.1 L151.5,58.8 L151.6,59.4 L151.7,60.1 L151.8,60.7 L152.0,61.4 L152.1,62.0 L152.2,62.7 L152.4,63.4 L152.5,64.0 L152.6,64.7 L152.6,65.3 L152.7,66.0 L152.8,66.7 L152.8,67.3 L152.9,68.0 L153.0,68.7 L153.0,69.3 L153.1,70.0 L153.1,70.7 L153.2,71.3 L153.2,72.0 L153.2,72.7 L153.3,73.3 L153.3,74.0 L153.4,74.7 L153.4,75.3 L153.5,76.0 L153.6,76.7 L153.6,77.3 L153.7,78.0 L153.7,78.7 L153.8,79.3 L153.9,80.0 L153.9,80.7 L154.0,81.3 L154.0,82.0 L154.1,82.7 L154.2,83.3 L154.2,84.0 L154.3,84.6 L154.3,85.3 L154.4,86.0 L154.4,86.6 L154.5,87.3 L154.5,88.0 L154.6,88.6 L154.6,89.3 L154.6,90.0 L154.7,90.6 L154.7,91.3 L154.8,92.0 L154.8,92.6 L154.8,93.3 L154.9,94.0 L154.9,94.6 L155.0,95.3 L155.0,96.0 L155.0,96.7 L155.1,97.3 L155.1,98.0 L155.1,98.7 L155.2,99.3 L155.2,100.0 L155.2,100.7 L155.3,101.3 L155.3,102.0 L155.3,102.7 L155.4,103.3 L155.4,104.0 L155.4,104.7 L155.4,105.3 L155.5,106.0 L155.5,106.7 L155.5,107.3 L155.6,108.0 L155.6,108.7 L155.6,109.3 L155.7,110.0 L155.7,110.7 L155.8,111.3 L155.8,112.0 L155.8,112.7 L155.9,113.3 L156.0,114.0 L156.0,114.7 L156.1,115.3 L156.2,116.0 L156.2,116.7 L156.3,117.3 L156.4,118.0 L156.5,118.7 L156.5,119.3 L156.6,120.0 L156.7,120.6 L156.7,121.3 L156.8,122.0 L156.9,122.6 L156.9,123.3 L157.0,124.0 L157.0,124.6 L157.1,125.3 L157.1,126.0 L157.2,126.6 L157.3,127.3 L157.3,128.0 L157.4,128.6 L157.4,129.3 L157.5,130.0 L157.6,130.6 L157.6,131.3 L157.7,132.0 L157.8,132.6 L157.8,133.3 L157.9,134.0 L158.0,134.6 L158.1,135.3 L158.2,135.9 L158.2,136.6 L158.3,137.3 L158.4,137.9 L158.5,138.6 L158.6,139.3 L158.7,139.9 L158.7,140.6 L158.8,141.2 L158.9,141.9 L159.0,142.6 L159.1,143.2 L159.1,143.9 L159.2,144.6 L159.3,145.2 L159.4,145.9 L159.5,146.6 L159.5,147.2 L159.6,147.9 L159.7,148.5 L159.8,149.2 L159.9,149.9 L159.9,150.5 L160.0,151.2 L160.1,151.9 L160.2,152.5 L160.3,153.2 L160.3,153.9 L160.4,154.5 L160.5,155.2 L160.6,155.8 L160.7,156.5 L160.8,157.2 L160.8,157.8 L160.9,158.5 L161.0,159.2 L161.1,159.8 L161.2,160.5 L161.3,161.1 L161.4,161.8 L161.5,162.5 L161.6,163.1 L161.7,163.8 L161.8,164.4 L161.9,165.1 L162.0,165.8 L162.1,166.4 L162.2,167.1 L162.3,167.7 L162.5,168.4 L162.6,169.1 L162.7,169.7 L162.9,170.4 L163.0,171.0 L163.2,171.7 L163.3,172.3 L163.5,173.0 L163.7,173.6 L163.8,174.3 L164.0,175.0 L164.2,175.6 L164.4,176.3 L164.6,176.9 L164.8,177.5 L165.1,178.0 L165.6,178.7 L166.1,179.3 L166.6,179.7 L167.1,180.0 L167.5,179.9 L167.9,179.4 L168.3,178.7 L168.7,178.0 L168.9,177.3 L169.1,176.7 L169.3,176.1 L169.5,175.4 L169.6,174.8 L169.7,174.1 L169.9,173.4 L170.1,172.8 L170.2,172.1 L170.4,171.5 L170.6,170.9 L170.8,170.2 L171.0,169.6 L171.2,168.9 L171.4,168.3 L171.5,167.7 L171.7,167.0 L171.8,166.4 L172.0,165.7 L172.1,165.0 L172.3,164.4 L172.4,163.7 L172.6,163.1 L172.7,162.4 L172.8,161.8 L173.0,161.1 L173.1,160.5 L173.2,159.8 L173.4,159.2 L173.5,158.5 L173.7,157.9 L173.8,157.2 L173.9,156.5 L174.0,155.9 L174.2,155.2 L174.3,154.6 L174.4,153.9 L174.6,153.3 L174.7,152.6 L174.8,152.0 L174.9,151.3 L175.1,150.6 L175.2,150.0 L175.3,149.3 L175.5,148.7 L175.6,148.0 L175.7,147.4 L175.9,146.7 L176.0,146.1 L176.1,145.4 L176.3,144.7 L176.4,144.1 L176.5,143.4 L176.6,142.8 L176.8,142.1 L176.9,141.5 L177.0,140.8 L177.1,140.1 L177.2,139.5 L177.3,138.8 L177.4,138.2 L177.5,137.5 L177.6,136.8 L177.7,136.2 L177.8,135.5 L177.8,134.9 L177.9,134.2 L178.0,133.5 L178.1,132.9 L178.2,132.2 L178.3,131.5 L178.4,130.9 L178.5,130.2 L178.6,129.6 L178.7,128.9 L178.8,128.2 L178.9,127.6 L179.0,126.9 L179.1,126.3 L179.3,125.6 L179.4,125.0 L179.5,124.3 L179.7,123.6 L179.8,123.0 L179.9,122.3 L180.1,121.7 L180.2,121.0 L180.4,120.4 L180.5,119.7 L180.7,119.1 L180.8,118.4 L181.0,117.8 L181.1,117.1 L181.3,116.5 L181.5,115.8 L181.7,115.2 L181.8,114.5 L182.0,113.9 L182.2,113.3 L182.4,112.6 L182.6,112.0 L182.8,111.3 L182.9,110.7 L183.2,110.1 L183.4,109.4 L183.6,108.8 L183.8,108.2 L184.0,107.5 L184.2,106.9 L184.5,106.3 L184.7,105.6 L185.0,105.0 L185.3,104.4 L185.6,103.8 L185.9,103.3 L186.2,102.7 L186.6,102.1 L186.9,101.5 L187.1,100.9 L187.4,100.3 L187.7,99.7 L187.9,99.0 L188.2,98.4 L188.5,97.8 L188.7,97.2 L189.0,96.6 L189.3,96.0 L189.6,95.4 L189.9,94.8 L190.2,94.2 L190.5,93.6 L190.8,93.0 L191.2,92.4 L191.5,91.9 L191.8,91.3 L192.2,90.7 L192.5,90.2 L192.9,89.6 L193.2,89.0 L193.6,88.4 L194.0,87.9 L194.3,87.3 L194.7,86.7 L195.1,86.2 L195.4,85.6 L195.8,85.1 L196.2,84.5 L196.6,84.0 L197.0,83.5 L197.4,83.0 L197.8,82.4 L198.3,81.9 L198.7,81.4 L199.1,80.9 L199.6,80.4 L200.1,79.9 L200.5,79.4 L201.0,78.9 L201.5,78.5 L202.0,78.0 L202.5,77.6 L203.0,77.2 L203.6,76.9 L204.1,76.5 L204.7,76.2 L205.3,75.8 L205.8,75.5 L206.4,75.2 L207.0,74.9 L207.6,74.6 L208.3,74.3 L208.9,74.0 L209.5,73.8 L210.1,73.5 L210.7,73.2 L211.4,73.0 L212.0,72.7 L212.6,72.5 L213.2,72.3 L213.9,72.0 L214.5,71.8 L215.1,71.6 L215.8,71.4 L216.4,71.2 L217.0,71.0 L217.7,70.8 L218.3,70.6 L219.0,70.4 L219.6,70.2 L220.3,70.1 L220.9,69.9 L221.6,69.8 L222.2,69.7 L222.9,69.5 L223.5,69.4 L224.2,69.3 L224.8,69.2 L225.5,69.1 L226.2,68.9 L226.8,68.8 L227.5,68.7 L228.1,68.6 L228.8,68.5 L229.5,68.4 L230.1,68.4 L230.8,68.3 L231.5,68.2 L232.1,68.1 L232.8,68.0 L233.4,67.9 L234.1,67.8 L234.8,67.8 L235.4,67.7 L236.1,67.6 L236.8,67.5 L237.4,67.5 L238.1,67.4 L238.8,67.3 L239.4,67.2 L240.1,67.2 L240.8,67.1 L241.4,67.0 L242.1,67.0 L242.8,66.9 L243.4,66.8 L244.1,66.8 L244.7,66.7 L245.4,66.7 L246.1,66.6 L246.7,66.5 L247.4,66.5 L248.1,66.4 L248.7,66.4 L249.4,66.3 L250.1,66.3 L250.7,66.2 L251.4,66.2 L252.1,66.1 L252.7,66.1 L253.4,66.0 L254.1,66.0 L254.7,65.9 L255.4,65.9 L256.1,65.8 L256.7,65.8 L257.4,65.7 L258.1,65.7 L258.7,65.6 L259.4,65.6 L260.1,65.5 L260.7,65.4 L261.4,65.4 L262.1,65.3 L262.7,65.3 L263.4,65.2 L264.1,65.2 L264.7,65.1 L265.4,65.1 L266.1,65.0 L266.7,65.0 L267.4,64.9 L268.1,64.9 L268.7,64.8 L269.4,64.8 L270.1,64.7 L270.7,64.6 L271.4,64.6 L272.1,64.6 L272.7,64.5 L273.4,64.5 L274.1,64.4 L274.8,64.4 L275.4,64.3 L276.1,64.3 L276.8,64.2 L277.4,64.1 L278.0,64.0 L278.7,63.8 L279.3,63.6 L279.9,63.3 L280.5,63.0 L281.1,62.6 L281.6,62.2 L282.0,61.7 L282.5,61.2 L283.0,60.8 L283.5,60.3 L284.1,59.9 L284.6,59.5 L285.2,59.2 L285.8,59.0 L286.5,58.8 L287.1,58.8 L287.8,59.0 L288.4,59.3 L289.0,59.6 L289.5,60.0 L290.0,60.5 L290.5,61.0 L291.0,61.4 L291.5,61.9 L292.0,62.3 L292.6,62.5 L293.2,62.7 L293.9,62.9 L294.6,63.0 L295.3,63.0 L295.9,63.0 L296.6,63.0 L297.2,63.0 L297.9,63.0 L298.6,63.0 L299.2,63.0 L299.9,63.0 L300.6,63.0 L301.2,63.0 L301.9,63.0 L302.6,63.0 L303.3,63.0 L303.9,63.0 L304.6,63.0 L305.3,63.0 L305.9,63.0 L306.6,63.0 L307.3,63.0 L308.0,63.0 L308.6,63.0 L309.3,63.0 L310.0,63.0 L310.6,63.0 L311.3,63.0 L312.0,63.0 L312.6,63.0 L313.3,63.0 L314.0,63.0 L314.6,63.0 L315.3,63.0 L316.0,63.0 L316.6,63.0 L317.3,63.0 L318.0,63.0 L318.6,62.9 L319.3,62.9 L320.0,62.9 L320.7,62.9 L321.3,62.9 L322.0,62.9 L322.7,62.9 L323.3,62.9 L324.0,62.9 L324.7,62.9 L325.3,62.8 L326.0,62.8 L326.7,62.8 L327.3,62.8 L328.0,62.8" fill="none" stroke="#008000" stroke-width="2.6" stroke-linejoin="round" stroke-linecap="round"/>
</g>
<g font-size="14"><text x="96.4" y="218.6" text-anchor="middle">700</text><text x="154.4" y="218.6" text-anchor="middle">800</text><text x="212.4" y="218.6" text-anchor="middle">900</text><text x="270.4" y="218.6" text-anchor="middle">1000</text><text x="328.4" y="218.6" text-anchor="middle">1100</text><line x1="225.7" y1="106.0" x2="256" y2="106.0" stroke="#000000" stroke-width="2.6"/><text x="259.6" y="110.5" font-size="13.6"><tspan font-style="italic">h</tspan> = 190 nm</text><line x1="225.7" y1="123.0" x2="256" y2="123.0" stroke="#ff0000" stroke-width="2.6"/><text x="259.6" y="127.5" font-size="13.6"><tspan font-style="italic">h</tspan> = 230 nm</text><line x1="225.7" y1="139.9" x2="256" y2="139.9" stroke="#0000ff" stroke-width="2.6"/><text x="259.6" y="144.4" font-size="13.6"><tspan font-style="italic">h</tspan> = 270 nm</text><line x1="225.7" y1="156.8" x2="256" y2="156.8" stroke="#ff00ff" stroke-width="2.6"/><text x="259.6" y="161.3" font-size="13.6"><tspan font-style="italic">h</tspan> = 310 nm</text><line x1="225.7" y1="173.8" x2="256" y2="173.8" stroke="#008000" stroke-width="2.6"/><text x="259.6" y="178.3" font-size="13.6"><tspan font-style="italic">h</tspan> = 350 nm</text></g>
<g font-size="14"><text x="52.1" y="17.3" text-anchor="end">0.05</text><text x="52.1" y="67.3" text-anchor="end">0.00</text><text x="52.1" y="117.3" text-anchor="end">-0.05</text><text x="52.1" y="167.3" text-anchor="end">-0.10</text></g>
<text x="120.6" y="244" font-size="17" letter-spacing="0.45">Wavelength</text>
<text transform="translate(215,244) scale(1.3,1.04)" font-size="18" font-style="italic" style="stroke-width:0.15px">λ</text>
<text x="264.3" y="244" font-size="17" letter-spacing="0.45" text-anchor="end">(nm)</text>
<text transform="translate(12.6,113.8) rotate(-90)" font-size="16.8" font-style="italic" text-anchor="middle">CD</text>
</svg>
</body></html>
